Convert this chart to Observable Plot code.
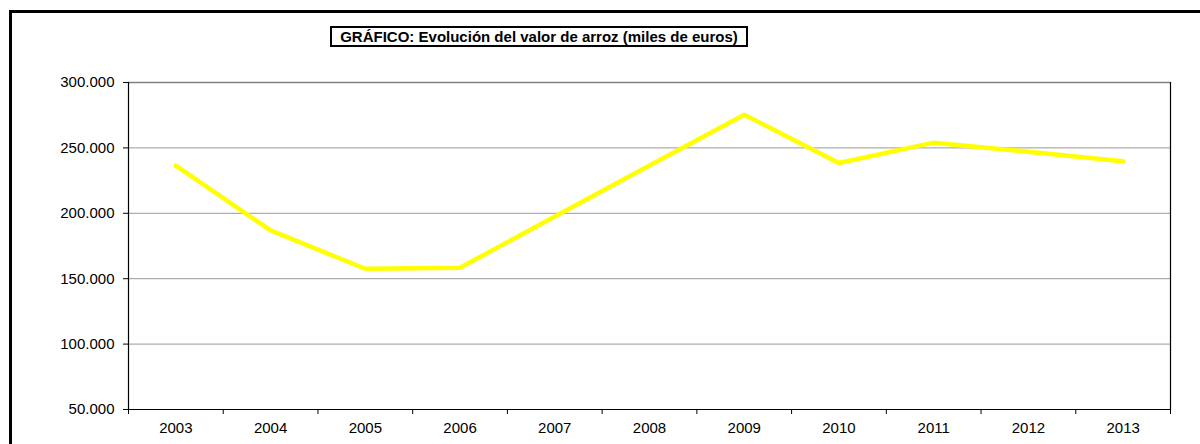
<!DOCTYPE html>
<html>
<head>
<meta charset="utf-8">
<script src="https://cdn.jsdelivr.net/npm/d3@7"></script>
<script src="https://cdn.jsdelivr.net/npm/@observablehq/plot@0.6"></script>
<style>
  html, body { margin: 0; padding: 0; background: #fff; overflow: hidden; }
  #wrap { position: relative; width: 1200px; height: 444px; font-family: "Liberation Sans", Arial, sans-serif; }
  #frame { position: absolute; left: 9px; top: 10px; right: -20px; bottom: -20px; border-top: 3px solid #000; border-left: 3px solid #000; pointer-events: none; }
  #title { position: absolute; left: 330px; top: 26px; width: 414px; height: 17px; border: 2px solid #000; font-weight: bold; font-size: 15px; line-height: 17px; text-align: center; color: #000; background: #fff; white-space: nowrap; }
  #chart { position: absolute; left: 0; top: 0; }
  #chart svg text { font-size: 15px; }
</style>
</head>
<body>
<div id="wrap">
  <div id="chart"></div>
  <div id="frame"></div>
  <div id="title">GRÁFICO: Evolución del valor de arroz (miles de euros)</div>
</div>
<script>
const years = [2003, 2004, 2005, 2006, 2007, 2008, 2009, 2010, 2011, 2012, 2013];
const valores = [236500, 186900, 157600, 158400, 197500, 236500, 275400, 238500, 254000, 247000, 239800];
const yTicks = [50000, 100000, 150000, 200000, 250000, 300000];
const gridTicks = [100000, 150000, 200000, 250000];

const data = years.map((yr, i) => ({year: yr, value: valores[i]}));
const xMin = years[0] - 0.5;
const xMax = years[years.length - 1] + 0.5;
const boundaries = years.map(y => y - 0.5).concat([xMax]);
const fmt = d => d3.format(",")(d).replace(/,/g, ".");

const chart = Plot.plot({
  width: 1200,
  height: 444,
  marginLeft: 128,
  marginRight: 30,
  marginTop: 82,
  marginBottom: 35,
  style: { fontFamily: "'Liberation Sans', Arial, sans-serif", fontSize: "15px", color: "#000", background: "transparent" },
  x: { domain: [xMin, xMax] },
  y: { domain: [50000, 300000] },
  marks: [
    Plot.gridY(gridTicks, { stroke: "#999", strokeOpacity: 1, strokeWidth: 1 }),
    Plot.ruleY([300000], { stroke: "#808080", strokeWidth: 1.5 }),
    Plot.ruleY([50000], { stroke: "#000", strokeWidth: 1.2 }),
    Plot.ruleX([xMin], { stroke: "#000", strokeWidth: 1.2 }),
    Plot.ruleX([xMax], { stroke: "#000", strokeWidth: 1.2 }),
    Plot.axisY(yTicks, { tickSize: 5, tickPadding: 9, tickFormat: fmt, stroke: "#000", fontSize: 15, label: null }),
    Plot.axisX(boundaries, { tickSize: 5, tickFormat: () => "", stroke: "#000", label: null }),
    Plot.axisX(years, { tickSize: 0, tickPadding: 13, tickFormat: d => String(d), fontSize: 15, label: null }),
    Plot.line(data, { x: "year", y: "value", stroke: "#FFFF00", strokeWidth: 4.5, strokeLinecap: "round", strokeLinejoin: "miter" })
  ]
});
document.getElementById("chart").appendChild(chart);
</script>
</body>
</html>
